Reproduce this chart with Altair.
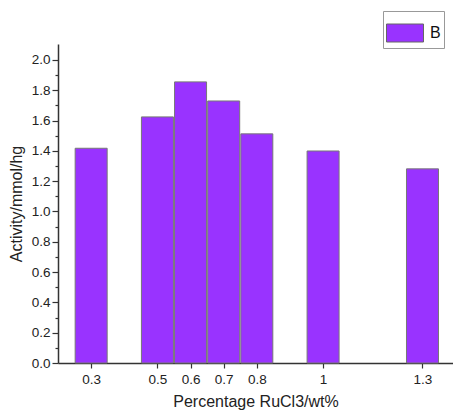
import altair as alt
import pandas as pd

pct = [0.3, 0.5, 0.6, 0.7, 0.8, 1.0, 1.3]
activity = [1.417, 1.624, 1.855, 1.729, 1.512, 1.399, 1.281]
series = ["B"] * len(pct)
x_ticks = [0.3, 0.5, 0.6, 0.7, 0.8, 1.0, 1.3]
y_major = [0.0, 0.2, 0.4, 0.6, 0.8, 1.0, 1.2, 1.4, 1.6, 1.8, 2.0]
y_minor = [0.1, 0.3, 0.5, 0.7, 0.9, 1.1, 1.3, 1.5, 1.7, 1.9]

df = pd.DataFrame({"pct": pct, "activity": activity, "series": series})

FONT = "Liberation Sans"
AXC = "#333333"

xscale = alt.Scale(domain=[0.215, 1.377], nice=False, zero=False)
yscale = alt.Scale(domain=[0, 2.105], nice=False)

bars = alt.Chart(df).mark_bar(size=32, stroke="#777777", strokeWidth=1).encode(
    x=alt.X("pct:Q", scale=xscale,
            axis=alt.Axis(values=x_ticks, format="~g", title="Percentage RuCl3/wt%",
                          labelFontSize=13.5, titleFontSize=16, labelFont=FONT, titleFont=FONT,
                          labelColor="#222", titleColor="#222", titleFontWeight="normal",
                          tickSize=5, tickColor=AXC, domainColor=AXC, domainWidth=1.5,
                          tickWidth=1.2, labelPadding=4, titlePadding=8, grid=False)),
    y=alt.Y("activity:Q", scale=yscale,
            axis=alt.Axis(values=y_major, format=".1f", title="Activity/mmol/hg",
                          labelFontSize=13.5, titleFontSize=16, labelFont=FONT, titleFont=FONT,
                          labelColor="#222", titleColor="#222", titleFontWeight="normal",
                          tickSize=6, tickColor=AXC, domainColor=AXC, domainWidth=1.5,
                          tickWidth=1.2, labelPadding=2, titlePadding=7, grid=False)),
    color=alt.Color("series:N", scale=alt.Scale(range=["#9933FF"]),
                    legend=alt.Legend(title=None, orient="none", legendX=325, legendY=-33,
                                      symbolType="M-1,-0.4865H1V0.4865H-1Z", symbolSize=1369,
                                      symbolStrokeColor="#666666", symbolStrokeWidth=1,
                                      labelFontSize=16, labelFont=FONT, labelColor="#111",
                                      labelOffset=6, padding=3, strokeColor="#999999",
                                      fillColor="white")),
)

minor = alt.Chart(df).mark_point(opacity=0).encode(
    x=alt.X("pct:Q", scale=xscale, axis=None),
    y=alt.Y("activity:Q", scale=yscale,
            axis=alt.Axis(values=y_minor, orient="left", labels=False, domain=False,
                          title=None, tickSize=3, tickColor=AXC, tickWidth=1.2, grid=False)),
)

chart = alt.layer(bars, minor).resolve_axis(y="independent", x="independent").properties(
    width=395, height=319,
    autosize=alt.AutoSizeParams(type="none"),
    padding={"left": 58, "top": 44, "right": 0, "bottom": 50},
).configure_view(stroke=None)

chart.save("out.html", embed_options={"renderer": "svg", "actions": False})
